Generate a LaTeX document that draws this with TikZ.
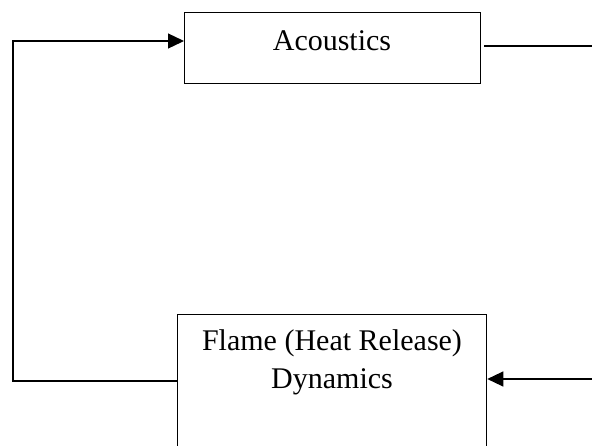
\documentclass[tikz,border=0pt]{standalone}
\usepackage{fontspec}
\setmainfont{Liberation Serif}
\usetikzlibrary{arrows.meta}
\begin{document}
\begin{tikzpicture}[x=1pt,y=-1pt,
  blockbox/.style={draw,line width=1.3pt,inner sep=0pt,font=\fontsize{30}{38}\selectfont},
  conn/.style={line width=1.3pt},
  arr/.style={conn,-{Triangle[length=16pt,width=15pt]}}]
\useasboundingbox (0,0) rectangle (592,445);
\clip (0,0) rectangle (592,445);
\node[blockbox,minimum width=296pt,minimum height=71pt,anchor=north west] (acoustics) at (184,12) {};
\node (acoustext) at (332,41) {\fontsize{30}{38}\selectfont Acoustics};
\node[blockbox,minimum width=309pt,minimum height=200pt,anchor=north west] (flame) at (177,314) {};
\node[align=center,anchor=north,font=\fontsize{30}{38}\selectfont] (flametext) at (332,326) {Flame (Heat Release)\\Dynamics};
\coordinate (lc) at (13,381);
\coordinate (tc) at (13,41);
\coordinate (r1) at (592,46);
\coordinate (r1s) at (484,46);
\coordinate (r2) at (592,379);
\draw[arr] (flame.west |- lc) -- (lc) -- (tc) -- (acoustics.west |- tc);
\draw[conn] (r1s) -- (r1);
\draw[arr] (r2) -- (flame.east |- r2);
\end{tikzpicture}
\end{document}
